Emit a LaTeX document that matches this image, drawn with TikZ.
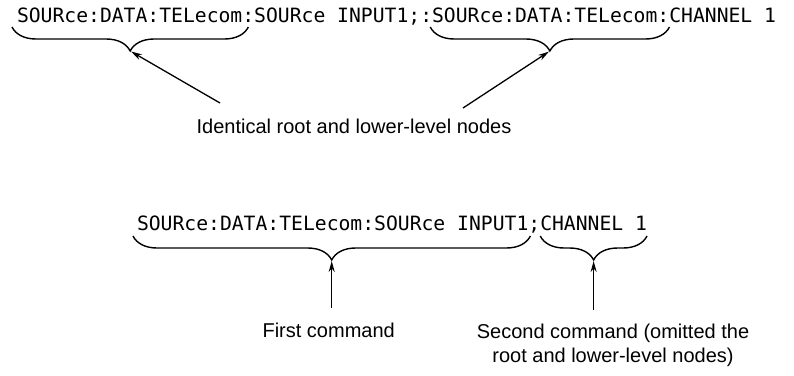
\documentclass[tikz,border=0pt]{standalone}
\usepackage{fontspec}
\setmainfont{Liberation Sans}
\newfontfamily\codefont{DejaVu Sans Mono}
\usetikzlibrary{decorations.pathreplacing,arrows.meta,calc}
\begin{document}
\begin{tikzpicture}[x=1pt,y=-1pt,
  code/.style={font=\codefont\fontsize{19.7}{22}\selectfont, inner sep=0pt, outer sep=0pt, anchor=base west},
  note/.style={font=\fontsize{20}{24.5}\selectfont, inner sep=0pt, align=center, anchor=base},
  bracedown/.style={draw, line width=1.4pt, decorate, decoration={brace, amplitude=24pt, mirror}},
  pointer/.style={draw, line width=1.3pt, -{Stealth[length=11pt,width=6pt]}, shorten >=1pt}]
\useasboundingbox (0,0) rectangle (794,375);

% top line
\node[code] (t1) at (17,22) {SOURce:DATA:TELecom};
\node[code] (t2) at (t1.base east) {:SOURce INPUT1;};
\node[code] (t3) at (t2.base east) {:SOURce:DATA:TELecom};
\node[code] (t4) at (t3.base east) {:CHANNEL 1};

\coordinate (b1l) at ($(t1.base west)+(-5,5)$);
\coordinate (b1r) at ($(t1.base east)+(6,5)$);
\draw[bracedown] (b1l) -- (b1r);
\coordinate (tip1) at ($(b1l)!0.5!(b1r)+(0,24)$);

\coordinate (b2l) at ($(t3.base west)+(10,5)$);
\coordinate (b2r) at ($(t3.base east)+(12,5)$);
\draw[bracedown] (b2l) -- (b2r);
\coordinate (tip2) at ($(b2l)!0.5!(b2r)+(0,24)$);

\node[note] (n1) at (354,133) {Identical root and lower-level nodes};
\coordinate (a1s) at (220,103);
\coordinate (a2s) at (463,108);
\draw[pointer] (a1s) -- (tip1);
\draw[pointer] (a2s) -- (tip2);

% bottom line
\node[code] (s1) at (137,230) {SOURce:DATA:TELecom:SOURce INPUT1};
\node[code] (s2) at (s1.base east) {;};
\node[code] (s3) at (s2.base east) {CHANNEL 1};

\coordinate (b3l) at ($(s1.base west)+(-4,6)$);
\coordinate (b3r) at ($(s1.base east)+(2,6)$);
\draw[bracedown] (b3l) -- (b3r);
\coordinate (tip3) at ($(b3l)!0.5!(b3r)+(0,24)$);

\coordinate (b4l) at ($(s3.base west)+(0,6)$);
\coordinate (b4r) at ($(s3.base east)+(0,6)$);
\draw[bracedown] (b4l) -- (b4r);
\coordinate (tip4) at ($(b4l)!0.5!(b4r)+(0,24)$);

\coordinate (a3s) at ($(tip3)+(0,48)$);
\coordinate (a4s) at ($(tip4)+(0,50)$);
\draw[pointer] (a3s) -- (tip3);
\draw[pointer] (a4s) -- (tip4);

\node[note] (n2) at ($(tip3)+(-3,77)$) {First command};
\node[note] (n3) at (613,362.5) {Second command (omitted the\\root and lower-level nodes)};
\end{tikzpicture}
\end{document}
